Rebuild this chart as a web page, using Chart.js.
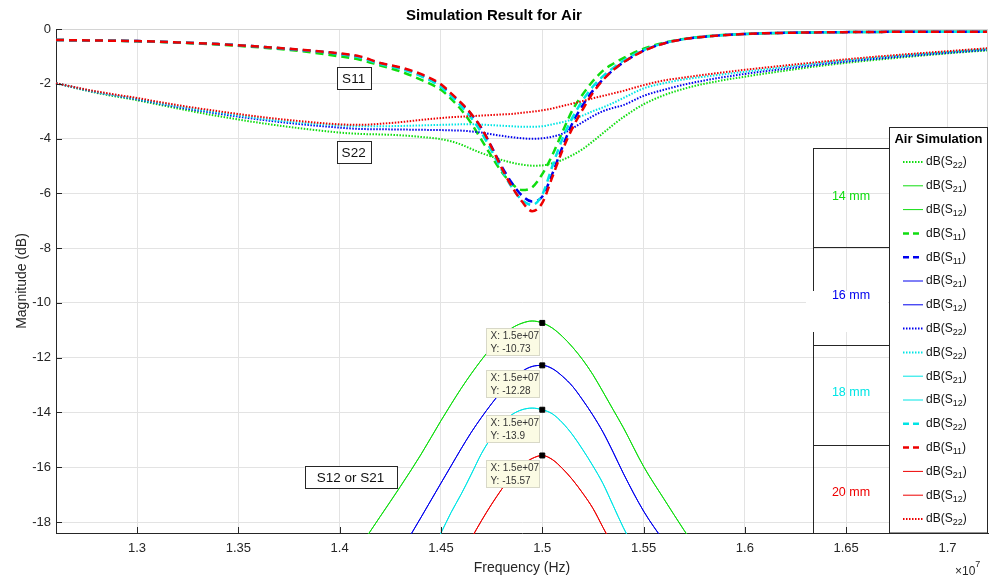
<!DOCTYPE html>
<html>
<head>
<meta charset="utf-8">
<script src="https://cdn.jsdelivr.net/npm/chart.js@4.4.0/dist/chart.umd.min.js"></script>
<style>
  body { margin: 0; background: #fff; }
  #wrap { width: 995px; height: 581px; }
</style>
</head>
<body>
<div id="wrap"><canvas id="chart" width="995" height="581"></canvas></div>
<script>
// frequency grid, in units of 1e7 Hz
const freq = [1.26, 1.28, 1.30, 1.32, 1.34, 1.36, 1.38, 1.40, 1.41, 1.42, 1.43, 1.44, 1.45, 1.455,
  1.46, 1.465, 1.47, 1.475, 1.48, 1.485, 1.49, 1.495, 1.50, 1.505, 1.51, 1.515, 1.52, 1.525,
  1.53, 1.535, 1.54, 1.55, 1.56, 1.57, 1.58, 1.60, 1.62, 1.64, 1.66, 1.68, 1.70, 1.72];

const xTicks = [1.3, 1.35, 1.4, 1.45, 1.5, 1.55, 1.6, 1.65, 1.7];
const yTicks = [0, -2, -4, -6, -8, -10, -12, -14, -16, -18];

// S11 (dashed)
const s11_14 = [-0.40,-0.42,-0.45,-0.50,-0.57,-0.67,-0.80,-1.00,-1.12,-1.33,-1.55,-1.85,-2.22,-2.55,-2.95,-3.45,-4.05,-4.65,-5.22,-5.65,-5.88,-5.78,-5.30,-4.60,-3.75,-2.95,-2.38,-1.90,-1.52,-1.27,-1.06,-0.72,-0.50,-0.36,-0.27,-0.18,-0.14,-0.12,-0.11,-0.10,-0.10,-0.10];
const s11_16 = [-0.40,-0.42,-0.44,-0.49,-0.55,-0.64,-0.76,-0.91,-1.03,-1.25,-1.43,-1.68,-2.06,-2.38,-2.72,-3.12,-3.62,-4.30,-5.02,-5.62,-6.08,-6.30,-6.12,-5.28,-4.30,-3.42,-2.78,-2.25,-1.84,-1.50,-1.22,-0.79,-0.53,-0.37,-0.28,-0.18,-0.14,-0.12,-0.11,-0.10,-0.10,-0.10];
const s11_18 = [-0.40,-0.42,-0.44,-0.49,-0.55,-0.64,-0.76,-0.91,-1.04,-1.28,-1.45,-1.72,-2.12,-2.45,-2.82,-3.25,-3.78,-4.45,-5.15,-5.78,-6.25,-6.42,-6.05,-5.00,-4.00,-3.22,-2.60,-2.10,-1.72,-1.42,-1.16,-0.77,-0.52,-0.37,-0.28,-0.18,-0.14,-0.12,-0.11,-0.10,-0.10,-0.10];
const s11_20 = [-0.40,-0.42,-0.44,-0.49,-0.55,-0.64,-0.75,-0.89,-1.00,-1.24,-1.40,-1.64,-2.02,-2.35,-2.70,-3.10,-3.62,-4.32,-5.08,-5.75,-6.30,-6.65,-6.35,-5.40,-4.42,-3.60,-2.93,-2.33,-1.86,-1.50,-1.22,-0.80,-0.53,-0.37,-0.28,-0.18,-0.14,-0.12,-0.11,-0.10,-0.10,-0.10];

// S22 (dotted)
const s22_14 = [-1.98,-2.33,-2.60,-2.90,-3.18,-3.42,-3.62,-3.78,-3.83,-3.85,-3.88,-3.94,-4.02,-4.10,-4.22,-4.38,-4.53,-4.66,-4.78,-4.88,-4.95,-4.99,-4.98,-4.90,-4.78,-4.60,-4.38,-4.10,-3.80,-3.50,-3.22,-2.75,-2.42,-2.18,-2.00,-1.74,-1.52,-1.32,-1.16,-1.02,-0.89,-0.78];
const s22_16 = [-1.98,-2.31,-2.57,-2.85,-3.09,-3.30,-3.47,-3.60,-3.65,-3.66,-3.67,-3.68,-3.69,-3.70,-3.71,-3.74,-3.78,-3.84,-3.90,-3.95,-3.99,-4.01,-3.99,-3.93,-3.82,-3.62,-3.40,-3.18,-3.00,-2.88,-2.78,-2.44,-2.22,-2.03,-1.88,-1.64,-1.45,-1.27,-1.12,-0.99,-0.87,-0.76];
const s22_18 = [-1.98,-2.30,-2.55,-2.82,-3.05,-3.26,-3.42,-3.52,-3.55,-3.55,-3.54,-3.52,-3.50,-3.49,-3.48,-3.48,-3.49,-3.51,-3.53,-3.55,-3.57,-3.57,-3.55,-3.48,-3.40,-3.30,-3.16,-3.00,-2.86,-2.70,-2.52,-2.17,-1.98,-1.84,-1.74,-1.56,-1.39,-1.22,-1.08,-0.95,-0.84,-0.73];
const s22_20 = [-1.98,-2.28,-2.52,-2.78,-3.00,-3.20,-3.36,-3.48,-3.50,-3.46,-3.40,-3.32,-3.25,-3.22,-3.20,-3.18,-3.16,-3.14,-3.12,-3.10,-3.06,-3.02,-2.97,-2.90,-2.81,-2.72,-2.63,-2.53,-2.44,-2.35,-2.26,-2.05,-1.88,-1.77,-1.67,-1.49,-1.33,-1.18,-1.04,-0.92,-0.81,-0.70];

// S21 = S12 (solid), null where far below the axis
const s21_14 = [null,null,null,null,null,null,null,-20.0,-18.9,-17.8,-16.7,-15.55,-14.3,-13.7,-13.12,-12.58,-12.08,-11.62,-11.22,-10.92,-10.74,-10.66,-10.73,-10.92,-11.23,-11.62,-12.08,-12.62,-13.25,-13.9,-14.55,-15.97,-17.15,-18.3,-19.4,null,null,null,null,null,null,null];
const s21_16 = [null,null,null,null,null,null,null,null,null,null,-19.1,-17.85,-16.58,-15.95,-15.32,-14.72,-14.18,-13.68,-13.22,-12.82,-12.5,-12.32,-12.28,-12.40,-12.68,-13.05,-13.55,-14.1,-14.72,-15.45,-16.22,-17.6,-18.7,null,null,null,null,null,null,null,null,null];
const s21_18 = [null,null,null,null,null,null,null,null,null,null,null,-19.8,-18.4,-17.65,-16.98,-16.25,-15.5,-14.9,-14.4,-14.08,-13.9,-13.84,-13.9,-14.05,-14.38,-14.82,-15.36,-15.95,-16.6,-17.4,-18.2,-19.6,null,null,null,null,null,null,null,null,null,null];
const s21_20 = [null,null,null,null,null,null,null,null,null,null,null,null,null,null,-19.3,-18.6,-17.95,-17.35,-16.8,-16.3,-15.92,-15.68,-15.57,-15.72,-16.05,-16.46,-16.95,-17.5,-18.2,-18.9,null,null,null,null,null,null,null,null,null,null,null,null];

// data tips
const tipX = [1.5, 1.5, 1.5, 1.5];
const tipY = [-10.73, -12.28, -13.9, -15.57];

const groupLabels = ['14 mm', '16 mm', '18 mm', '20 mm'];

const FONT = "'Liberation Sans', Arial, Helvetica, sans-serif";
const INK = '#262626';
const GREEN = '#10dd10', BLUE = '#0000ee', CYAN = '#00e5e5', RED = '#ee0000';
const groupColors = [GREEN, BLUE, CYAN, RED];

const STYLES = {
  dot:   { borderWidth: 2,   borderDash: [1.5, 1.5] },
  dash:  { borderWidth: 2.5, borderDash: [8, 5] },
  solid: { borderWidth: 1,   borderDash: [] }
};

// legend order as in the figure
const series = [
  { sub: '22', kind: 'dot',   color: GREEN, values: s22_14 },
  { sub: '21', kind: 'solid', color: GREEN, values: s21_14 },
  { sub: '12', kind: 'solid', color: GREEN, values: s21_14 },
  { sub: '11', kind: 'dash',  color: GREEN, values: s11_14 },
  { sub: '11', kind: 'dash',  color: BLUE,  values: s11_16 },
  { sub: '21', kind: 'solid', color: BLUE,  values: s21_16 },
  { sub: '12', kind: 'solid', color: BLUE,  values: s21_16 },
  { sub: '22', kind: 'dot',   color: BLUE,  values: s22_16 },
  { sub: '22', kind: 'dot',   color: CYAN,  values: s22_18 },
  { sub: '21', kind: 'solid', color: CYAN,  values: s21_18 },
  { sub: '12', kind: 'solid', color: CYAN,  values: s21_18 },
  { sub: '22', kind: 'dash',  color: CYAN,  values: s11_18 },
  { sub: '11', kind: 'dash',  color: RED,   values: s11_20 },
  { sub: '21', kind: 'solid', color: RED,   values: s21_20 },
  { sub: '12', kind: 'solid', color: RED,   values: s21_20 },
  { sub: '22', kind: 'dot',   color: RED,   values: s22_20 }
];

const datasets = series.map((s, i) => ({
  label: 'dB(S' + s.sub + ')',
  data: freq.map((f, k) => ({ x: f, y: s.values[k] })),
  borderColor: s.color,
  backgroundColor: s.color,
  fill: false,
  pointRadius: 0,
  cubicInterpolationMode: 'monotone',
  clip: 1,
  order: series.length - i,   // later series drawn on top, like MATLAB
  ...STYLES[s.kind]
}));

datasets.push({
  label: 'tips',
  data: tipX.map((v, i) => ({ x: v, y: tipY[i] })),
  showLine: false,
  pointStyle: 'rect',
  pointRadius: 3.5,
  pointBackgroundColor: '#000',
  pointBorderColor: '#000',
  order: -1
});

const notes = [
  { text: 'S11', x: 1.4069, y: -1.79, w: 34 },
  { text: 'S22', x: 1.4069, y: -4.49, w: 34 },
  { text: 'S12 or S21', x: 1.4054, y: -16.35, w: 92 }
];

function drawSubLabel(ctx, x, y, sub) {
  ctx.font = '12px ' + FONT;
  ctx.fillText('dB(S', x, y);
  let w = ctx.measureText('dB(S').width;
  ctx.font = '9px ' + FONT;
  ctx.fillText(sub, x + w, y + 4);
  w += ctx.measureText(sub).width;
  ctx.font = '12px ' + FONT;
  ctx.fillText(')', x + w, y);
}

const overlay = {
  id: 'overlay',
  afterDatasetsDraw(chart) {
    const { ctx, chartArea: a, scales: { x, y } } = chart;
    const seg = (x1, y1, x2, y2) => { ctx.beginPath(); ctx.moveTo(x1, y1); ctx.lineTo(x2, y2); ctx.stroke(); };
    ctx.save();
    ctx.setLineDash([]);

    // box top / right and inward ticks
    ctx.lineWidth = 1;
    ctx.strokeStyle = '#d4d4d4';
    seg(a.left, a.top + 0.5, a.right, a.top + 0.5);
    seg(a.right - 0.5, a.top, a.right - 0.5, a.bottom);
    ctx.strokeStyle = INK;
    xTicks.forEach(v => {
      const px = Math.round(x.getPixelForValue(v)) + 0.5;
      seg(px, a.bottom, px, a.bottom - 6);
    });
    yTicks.forEach(v => {
      const py = Math.round(y.getPixelForValue(v)) + 0.5;
      seg(a.left, py, a.left + 6, py);
    });

    // text annotations
    ctx.textAlign = 'center';
    ctx.textBaseline = 'middle';
    notes.forEach(n => {
      const cx = x.getPixelForValue(n.x), cy = y.getPixelForValue(n.y);
      ctx.fillStyle = '#fff';
      ctx.fillRect(cx - n.w / 2, cy - 11, n.w, 22);
      ctx.strokeStyle = INK;
      ctx.strokeRect(Math.round(cx - n.w / 2) + 0.5, Math.round(cy - 11) + 0.5, n.w, 22);
      ctx.fillStyle = '#111';
      ctx.font = '13.5px ' + FONT;
      ctx.fillText(n.text, cx, cy + 1);
    });

    // data tip boxes
    ctx.textAlign = 'left';
    tipX.forEach((v, i) => {
      const mx = x.getPixelForValue(v), my = y.getPixelForValue(tipY[i]);
      const bx = Math.round(mx - 56) + 0.5, by = Math.round(my + 5) + 0.5;
      ctx.fillStyle = '#fbfbe4';
      ctx.fillRect(bx, by, 53, 27);
      ctx.strokeStyle = '#d8d8c8';
      ctx.strokeRect(bx, by, 53, 27);
      ctx.fillStyle = '#333';
      ctx.font = '10px ' + FONT;
      ctx.fillText('X: 1.5e+07', bx + 4, by + 8);
      ctx.fillText('Y: ' + tipY[i], bx + 4, by + 21);
    });

    // size table
    const tx = 813.5, tr = 889, rows = [148, 247, 345, 445];
    ctx.strokeStyle = INK;
    seg(tx, rows[0], tx, a.bottom);
    rows.forEach(r => seg(tx, r + 0.5, tr, r + 0.5));
    ctx.fillStyle = '#fff';
    ctx.fillRect(806, 291, 82, 41);
    const labelY = [197, 296, 393, 493];
    ctx.textAlign = 'center';
    ctx.font = '12.5px ' + FONT;
    groupLabels.forEach((t, i) => {
      ctx.fillStyle = groupColors[i];
      ctx.fillText(t, 851, labelY[i]);
    });

    // legend
    const lx = 889.5, ly = 127.5, lw = 98, lh = a.bottom - ly;
    ctx.fillStyle = '#fff';
    ctx.fillRect(lx, ly, lw, lh);
    ctx.strokeStyle = INK;
    ctx.strokeRect(lx, ly, lw, lh);
    ctx.fillStyle = '#000';
    ctx.font = 'bold 13px ' + FONT;
    ctx.fillText('Air Simulation', lx + lw / 2, 139);
    ctx.textAlign = 'left';
    series.forEach((s, i) => {
      const ey = 162 + i * 23.8;
      ctx.strokeStyle = s.color;
      ctx.lineWidth = STYLES[s.kind].borderWidth;
      ctx.setLineDash(s.kind === 'dash' ? [6, 4] : STYLES[s.kind].borderDash);
      seg(903, ey, 923, ey);
      ctx.setLineDash([]);
      ctx.fillStyle = '#111';
      drawSubLabel(ctx, 926, ey, s.sub);
    });

    // exponent label
    ctx.fillStyle = INK;
    ctx.font = '12px ' + FONT;
    ctx.fillText('\u00d710', 955, 572);
    const w = ctx.measureText('\u00d710').width;
    ctx.font = '9px ' + FONT;
    ctx.fillText('7', 955 + w, 565);
    ctx.restore();
  }
};

new Chart(document.getElementById('chart').getContext('2d'), {
  type: 'line',
  data: { datasets },
  plugins: [overlay],
  options: {
    responsive: false,
    animation: false,
    events: [],
    layout: { padding: { right: 7 } },
    plugins: {
      legend: { display: false },
      tooltip: { enabled: false },
      title: {
        display: true,
        text: 'Simulation Result for Air',
        color: '#000',
        font: { family: FONT, size: 15, weight: 'bold' },
        padding: { top: 7, bottom: 4 }
      }
    },
    scales: {
      x: {
        type: 'linear',
        min: 1.26,
        max: 1.72,
        afterBuildTicks: s => { s.ticks = xTicks.map(v => ({ value: v })); },
        afterFit: s => { s.height = 48; },
        grid: { color: '#e3e3e3', drawTicks: false },
        border: { color: INK },
        ticks: { padding: 8, color: INK, font: { family: FONT, size: 13 }, callback: v => String(v) },
        title: { display: true, text: 'Frequency (Hz)', color: INK, font: { family: FONT, size: 14 }, padding: { top: 0, bottom: 4 } }
      },
      y: {
        min: -18.4,
        max: 0,
        afterBuildTicks: s => { s.ticks = yTicks.map(v => ({ value: v })); },
        afterFit: s => { s.width = 56; },
        grid: { color: '#e3e3e3', drawTicks: false },
        border: { color: INK },
        ticks: { padding: 5, color: INK, font: { family: FONT, size: 13 }, callback: v => String(v) },
        title: { display: true, text: 'Magnitude (dB)', color: INK, font: { family: FONT, size: 14 }, padding: { top: 14, bottom: 0 } }
      }
    }
  }
});
</script>
</body>
</html>
